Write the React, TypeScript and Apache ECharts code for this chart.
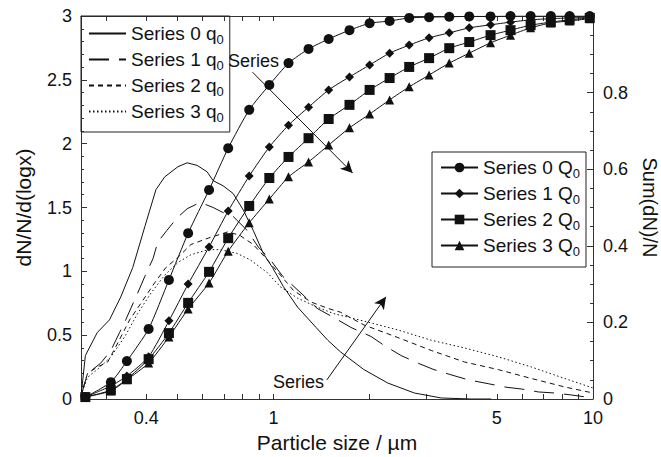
import React, { useEffect, useRef } from "react";
import * as echarts from "echarts";

// ---- data ----
const qNames = ["Series 0 q0", "Series 1 q0", "Series 2 q0", "Series 3 q0"];
const QNames = ["Series 0 Q0", "Series 1 Q0", "Series 2 Q0", "Series 3 Q0"];

const q0Size = [0.25, 0.258, 0.281, 0.307, 0.333, 0.363, 0.396, 0.429, 0.457, 0.503, 0.537, 0.577, 0.62, 0.648, 0.696, 0.748, 0.805, 0.865, 0.93, 0.993, 1.075, 1.19, 1.36, 1.48, 1.62, 1.92, 2.28, 2.76, 3.35, 4.16, 4.8];
const q0Val = [0.02, 0.34, 0.52, 0.62, 0.8, 1.03, 1.35, 1.64, 1.74, 1.82, 1.85, 1.83, 1.78, 1.71, 1.67, 1.61, 1.48, 1.32, 1.14, 1.03, 0.88, 0.72, 0.56, 0.46, 0.37, 0.23, 0.125, 0.047, 0.008, 0.0, 0.0];

const q1Size = [0.25, 0.262, 0.288, 0.31, 0.33, 0.345, 0.373, 0.396, 0.42, 0.435, 0.464, 0.5, 0.537, 0.59, 0.648, 0.696, 0.748, 0.828, 0.897, 0.979, 1.07, 1.22, 1.37, 1.54, 1.75, 2.02, 2.22, 2.51, 2.84, 3.18, 3.59, 4.07, 4.7, 5.29, 5.98, 6.76, 7.6, 8.59, 10];
const q1Val = [0.02, 0.2, 0.28, 0.38, 0.52, 0.62, 0.81, 0.96, 1.1, 1.23, 1.32, 1.42, 1.49, 1.54, 1.5, 1.46, 1.43, 1.32, 1.19, 1.09, 0.96, 0.83, 0.71, 0.64, 0.56, 0.49, 0.42, 0.34, 0.28, 0.23, 0.19, 0.15, 0.12, 0.094, 0.078, 0.055, 0.047, 0.031, 0.008];

const q2Size = [0.25, 0.262, 0.281, 0.303, 0.326, 0.355, 0.385, 0.425, 0.461, 0.503, 0.552, 0.625, 0.722, 0.787, 0.865, 0.957, 1.156, 1.31, 1.48, 1.62, 1.92, 2.46, 3.12, 3.96, 5.06, 6.43, 8.17, 10];
const q2Val = [0.03, 0.2, 0.25, 0.29, 0.44, 0.62, 0.75, 0.91, 1.03, 1.11, 1.21, 1.26, 1.31, 1.28, 1.21, 1.09, 0.85, 0.76, 0.71, 0.68, 0.58, 0.48, 0.38, 0.29, 0.23, 0.16, 0.094, 0.047];

const q3Size = [0.25, 0.262, 0.281, 0.31, 0.343, 0.376, 0.414, 0.457, 0.503, 0.552, 0.625, 0.681, 0.77, 0.846, 0.957, 1.05, 1.19, 1.37, 1.54, 1.92, 2.46, 3.12, 3.96, 5.06, 6.43, 8.17, 10];
const q3Val = [0.03, 0.17, 0.23, 0.33, 0.49, 0.67, 0.83, 0.97, 1.07, 1.13, 1.17, 1.17, 1.14, 1.09, 0.99, 0.88, 0.79, 0.72, 0.67, 0.61, 0.54, 0.46, 0.4, 0.33, 0.25, 0.16, 0.086];

const QSize = [0.258, 0.31, 0.348, 0.407, 0.471, 0.541, 0.629, 0.722, 0.84, 0.971, 1.115, 1.288, 1.489, 1.73, 2.0, 2.31, 2.66, 3.07, 3.55, 4.1, 4.78, 5.52, 6.38, 7.38, 8.45, 9.77];
const Q0 = [0.005, 0.044, 0.099, 0.183, 0.311, 0.433, 0.546, 0.655, 0.755, 0.82, 0.877, 0.914, 0.94, 0.963, 0.981, 0.987, 0.995, 0.997, 0.998, 0.999, 0.999, 1.0, 1.0, 1.0, 1.0, 1.0];
const Q1 = [0.005, 0.034, 0.06, 0.11, 0.204, 0.3, 0.397, 0.491, 0.582, 0.658, 0.715, 0.762, 0.807, 0.841, 0.872, 0.903, 0.924, 0.943, 0.956, 0.969, 0.977, 0.984, 0.99, 0.993, 0.995, 0.996];
const Q2 = [0.005, 0.023, 0.052, 0.104, 0.172, 0.251, 0.332, 0.42, 0.504, 0.577, 0.632, 0.681, 0.731, 0.768, 0.807, 0.838, 0.867, 0.89, 0.916, 0.932, 0.95, 0.963, 0.976, 0.984, 0.99, 0.995];
const Q3 = [0.005, 0.021, 0.05, 0.094, 0.162, 0.235, 0.303, 0.386, 0.46, 0.522, 0.58, 0.619, 0.663, 0.708, 0.744, 0.781, 0.815, 0.846, 0.877, 0.903, 0.93, 0.95, 0.969, 0.982, 0.987, 0.993];

const xLabelValues = [0.4, 1, 5, 10];
const xTickValues = [0.3, 0.4, 0.5, 0.6, 0.7, 0.8, 0.9, 1, 2, 3, 4, 5, 6, 7, 8, 9, 10];
const arrow1 = [[0.86, 2.56], [1.77, 1.77]];
const arrow2 = [[1.47, 0.15], [2.25, 0.8]];
const annotationText = "Series";

const FONT = "'Liberation Sans', Arial, Helvetica, sans-serif";
const INK = "#111";

const lg = (v: number) => Math.log10(v);
const pts = (xs: number[], ys: number[]) => xs.map((x, i) => [lg(x), ys[i]]);

export default function App() {
  const ref = useRef<HTMLDivElement>(null);
  useEffect(() => {
    if (!ref.current) return;
    const chart = echarts.init(ref.current, undefined, { renderer: "svg" });
    const qData = [pts(q0Size, q0Val), pts(q1Size, q1Val), pts(q2Size, q2Val), pts(q3Size, q3Val)];
    const qDash: any[] = ["solid", [20, 10], [5, 4], [1.5, 2.5]];
    const QData = [Q0, Q1, Q2, Q3].map((arr) => pts(QSize, arr));
    const QSym = ["circle", "diamond", "rect", "triangle"];
    const QSymSize = [10, 9, 10, 9];

    const legendFmt = (name: string) => name.replace(/ (q|Q)0$/, " $1{sub|0}");
    const legendText = {
      fontSize: 19,
      fontFamily: FONT,
      color: INK,
      lineHeight: 25,
      rich: { sub: { fontSize: 13, fontFamily: FONT, color: INK, lineHeight: 13, padding: [12, 0, 0, 0] } },
    };

    const series: any[] = [];
    qData.forEach((d, i) => {
      series.push({
        name: qNames[i],
        type: "line",
        data: d,
        xAxisIndex: 0,
        yAxisIndex: 0,
        symbol: "none",
        lineStyle: { color: INK, width: 1, type: qDash[i] },
        itemStyle: { color: INK },
        z: 2,
        ...(i === 0
          ? {
              markLine: {
                silent: true,
                symbol: ["none", "arrow"],
                symbolSize: [9, 12],
                label: { show: false },
                lineStyle: { color: INK, width: 1, type: "solid" },
                data: [
                  [{ coord: [lg(arrow1[0][0]), arrow1[0][1]] }, { coord: [lg(arrow1[1][0]), arrow1[1][1]] }],
                  [{ coord: [lg(arrow2[0][0]), arrow2[0][1]] }, { coord: [lg(arrow2[1][0]), arrow2[1][1]] }],
                ],
              },
            }
          : {}),
      });
    });
    QData.forEach((d, i) => {
      series.push({
        name: QNames[i],
        type: "line",
        data: d,
        xAxisIndex: 0,
        yAxisIndex: 1,
        symbol: QSym[i],
        symbolSize: QSymSize[i],
        showAllSymbol: true,
        smooth: 0.2,
        lineStyle: { color: INK, width: 1 },
        itemStyle: { color: INK },
        z: 3,
      });
    });

    const xCommon = {
      type: "value",
      min: lg(0.25),
      max: 1,
      splitLine: { show: false },
      axisLine: { show: true, onZero: false, lineStyle: { color: "#333", width: 1 } },
      axisTick: { show: true, inside: true, length: 5, customValues: xTickValues.map(lg), lineStyle: { color: "#333" } },
    };

    chart.setOption({
      animation: false,
      backgroundColor: "#fff",
      textStyle: { fontFamily: FONT },
      grid: { left: 81, right: 68, top: 16, bottom: 58, containLabel: false, outerBoundsMode: "none" },
      legend: [
        {
          data: qNames.map((n) => ({ name: n, itemStyle: { color: "rgba(0,0,0,0)", borderWidth: 0 } })),
          orient: "vertical",
          left: 81,
          top: 16,
          padding: [5, 6, 8, 7],
          itemGap: 1,
          itemWidth: 37,
          itemHeight: 12,
          borderColor: "#222",
          borderWidth: 1,
          selectedMode: false,
          formatter: legendFmt,
          textStyle: legendText,
        },
        {
          data: QNames,
          orient: "vertical",
          right: 75,
          top: 152,
          padding: [3, 6, 9, 8],
          itemGap: 1,
          itemWidth: 37,
          itemHeight: 12,
          borderColor: "#222",
          borderWidth: 1,
          selectedMode: false,
          formatter: legendFmt,
          textStyle: legendText,
        },
      ],
      xAxis: [
        {
          ...xCommon,
          position: "bottom",
          name: "Particle size / µm",
          nameLocation: "middle",
          nameGap: 27,
          nameTextStyle: { fontSize: 21, fontFamily: FONT, color: INK },
          axisLabel: {
            show: true,
            margin: 10,
            fontSize: 18,
            fontFamily: FONT,
            color: INK,
            customValues: xLabelValues.map(lg),
            formatter: (v: number) => String(parseFloat(Math.pow(10, v).toPrecision(2))),
          },
        },
        {
          ...xCommon,
          position: "top",
          axisLabel: { show: false },
        },
      ],
      yAxis: [
        {
          type: "value",
          min: 0,
          max: 3,
          interval: 0.5,
          position: "left",
          name: "dN/N/d(logx)",
          nameLocation: "middle",
          nameGap: 47,
          nameTextStyle: { fontSize: 21, fontFamily: FONT, color: INK },
          splitLine: { show: false },
          axisLine: { show: true, onZero: false, lineStyle: { color: "#333", width: 1 } },
          axisTick: { show: true, inside: true, length: 6, lineStyle: { color: "#333" } },
          minorTick: { show: true, splitNumber: 5, length: 3, lineStyle: { color: "#333" } },
          axisLabel: { margin: 9, fontSize: 18, fontFamily: FONT, color: INK },
        },
        {
          type: "value",
          min: 0,
          max: 1,
          interval: 0.2,
          position: "right",
          name: "Sum(dN)/N",
          nameLocation: "middle",
          nameRotate: -90,
          nameGap: 47,
          nameTextStyle: { fontSize: 20, fontFamily: FONT, color: INK },
          splitLine: { show: false },
          axisLine: { show: true, onZero: false, lineStyle: { color: "#333", width: 1 } },
          axisTick: { show: true, inside: true, length: 6, lineStyle: { color: "#333" } },
          minorTick: { show: true, splitNumber: 4, length: 3, lineStyle: { color: "#333" } },
          axisLabel: {
            margin: 10,
            fontSize: 18,
            fontFamily: FONT,
            color: INK,
            formatter: (v: number) => (v > 0.99 ? "" : String(parseFloat(v.toFixed(1)))),
          },
        },
      ],
      graphic: [
        {
          type: "text",
          left: 228,
          top: 52,
          style: { text: annotationText, fontSize: 18, fontFamily: FONT, fill: INK },
          silent: true,
        },
        {
          type: "text",
          left: 273,
          top: 373,
          style: { text: annotationText, fontSize: 18, fontFamily: FONT, fill: INK },
          silent: true,
        },
      ],
      series,
    });
    return () => chart.dispose();
  }, []);
  return (
    <div
      ref={ref}
      style={{ position: "fixed", left: 0, top: 0, width: 661, height: 457, background: "#fff" }}
    />
  );
}
